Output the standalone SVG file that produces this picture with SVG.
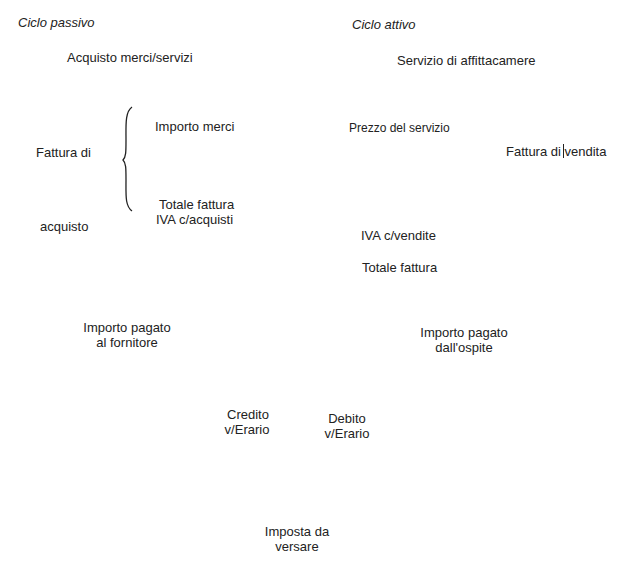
<svg xmlns="http://www.w3.org/2000/svg" width="636" height="580" viewBox="0 0 636 580">
<style>
text{font-family:"Liberation Sans",Arial,sans-serif;font-size:13px;fill:#222}
.i{font-style:italic}
.s{font-size:12px}
.c{text-anchor:middle}
</style>
<rect width="636" height="580" fill="#fff"/>
<g id="ciclo-passivo"><text class="i" x="18" y="27">Ciclo passivo</text></g>
<g id="ciclo-attivo"><text class="i" x="352" y="29">Ciclo attivo</text></g>
<g id="acquisto-merci"><text x="67" y="62">Acquisto merci/servizi</text></g>
<g id="servizio"><text x="397" y="65">Servizio di affittacamere</text></g>
<g id="fattura-acquisto">
<text x="36" y="157">Fattura di</text>
<text x="40" y="231">acquisto</text>
<path d="M132,107 C125,112 126,125 126,140 C126,152 126,157 123,160 C126,163 126,168 126,180 C126,195 125,206 132,211" fill="none" stroke="#222" stroke-width="1.3"/>
</g>
<g id="importo-merci"><text x="155" y="131">Importo merci</text></g>
<g id="totale-fattura-acq"><text x="159" y="209">Totale fattura</text></g>
<g id="iva-acquisti"><text x="156" y="224">IVA c/acquisti</text></g>
<g id="prezzo-servizio"><text class="s" x="349" y="132">Prezzo del servizio</text></g>
<g id="fattura-vendita">
<text x="506" y="156">Fattura di vendita</text>
<line x1="563.5" y1="144" x2="563.5" y2="158" stroke="#222" stroke-width="1"/>
</g>
<g id="iva-vendite"><text x="361" y="240">IVA c/vendite</text></g>
<g id="totale-fattura-ven"><text x="362" y="272">Totale fattura</text></g>
<g id="importo-fornitore"><text class="c" x="127" y="332">Importo pagato</text><text class="c" x="127" y="347">al fornitore</text></g>
<g id="importo-ospite"><text class="c" x="464" y="337">Importo pagato</text><text class="c" x="464" y="352">dall'ospite</text></g>
<g id="credito"><text class="c" x="248" y="419">Credito</text><text class="c" x="247" y="434">v/Erario</text></g>
<g id="debito"><text class="c" x="347" y="423">Debito</text><text class="c" x="347" y="438">v/Erario</text></g>
<g id="imposta"><text class="c" x="297" y="536">Imposta da</text><text class="c" x="297" y="551">versare</text></g>
<g id="connectors"></g>
</svg>
